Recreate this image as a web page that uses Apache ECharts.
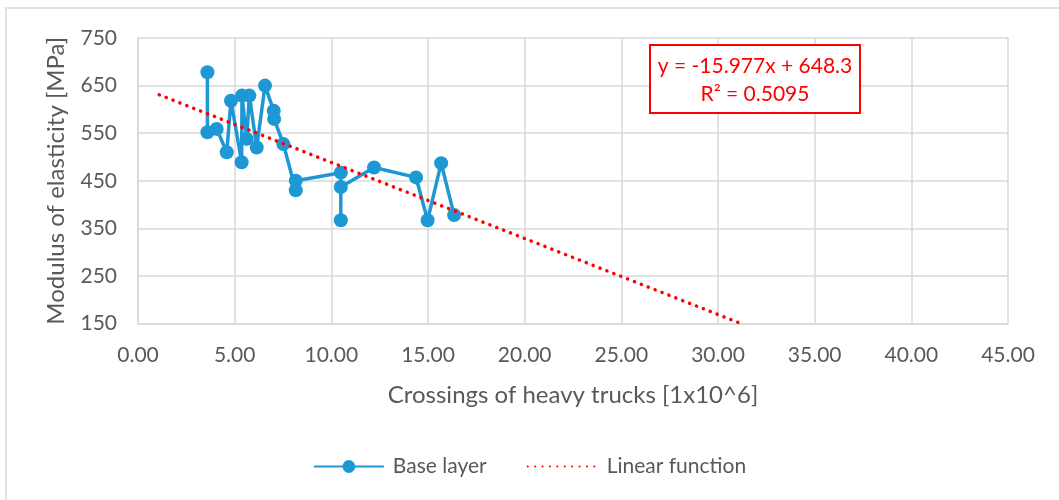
<!DOCTYPE html>
<html>
<head>
<meta charset="utf-8">
<script src="https://cdn.jsdelivr.net/npm/echarts@6/dist/echarts.min.js"></script>
<style>
  html, body { margin: 0; padding: 0; background: #fff; }
  #chart { width: 1059px; height: 500px; }
</style>
</head>
<body>
<div id="chart"></div>
<script>
// Measured base-layer modulus vs. cumulative heavy-truck crossings
const crossings = [3.59, 3.59, 4.07, 4.59, 4.81, 5.36, 5.38, 5.62, 5.76, 6.14, 6.57, 7.02, 7.04, 7.52,
                   8.16, 8.16, 10.49, 10.49, 10.49, 12.21, 14.38, 14.98, 15.68, 16.35];
const modulus   = [678, 552, 559, 510, 618, 489, 629, 538, 629, 520, 650, 597, 580, 527,
                   430, 450, 467, 367, 437, 478, 457, 367, 487, 378];

// Fitted linear trend (coefficients as printed in the equation box)
const trendSlope = -15.977;
const trendIntercept = 648.3;
const trendRange = [1.1, 31.19];
const trendLabel = ['y = -15.977x + 648.3', 'R² = 0.5095'];

const xTicks = { min: 0, max: 45, interval: 5 };
const yTicks = { min: 150, max: 750, interval: 100 };

const basePoints = crossings.map((x, i) => [x, modulus[i]]);
const trendPoints = trendRange.map(x => [x, trendSlope * x + trendIntercept]);

const FONT = 'Lato, "Open Sans", sans-serif';
const TEXT = '#595959';
const GRID = '#d9d9d9';

const chart = echarts.init(document.getElementById('chart'), null, { renderer: 'canvas' });
chart.setOption({
  animation: false,
  backgroundColor: '#fff',
  textStyle: { fontFamily: FONT },
  grid: { left: 138, top: 38, right: 51, bottom: 176.5, containLabel: false },
  xAxis: {
    type: 'value',
    min: xTicks.min, max: xTicks.max, interval: xTicks.interval,
    name: 'Crossings of heavy trucks [1x10^6]',
    nameLocation: 'middle', nameGap: 60,
    nameTextStyle: { color: TEXT, fontSize: 24, fontFamily: FONT },
    axisLine: { show: true, lineStyle: { color: GRID, width: 1.5 } },
    axisTick: { show: false },
    axisLabel: { color: TEXT, fontSize: 21, fontFamily: FONT, margin: 21,
                 formatter: v => v.toFixed(2) },
    splitLine: { show: true, lineStyle: { color: GRID, width: 1.5 } }
  },
  yAxis: {
    type: 'value',
    min: yTicks.min, max: yTicks.max, interval: yTicks.interval,
    name: 'Modulus of elasticity [MPa]',
    nameLocation: 'middle', nameGap: 70,
    nameTextStyle: { color: TEXT, fontSize: 24, fontFamily: FONT },
    axisLine: { show: true, lineStyle: { color: GRID, width: 1.5 } },
    axisTick: { show: false },
    axisLabel: { color: TEXT, fontSize: 21, fontFamily: FONT, margin: 21 },
    splitLine: { show: true, lineStyle: { color: GRID, width: 1.5 } }
  },
  legend: {
    bottom: 18, left: 'center',
    itemGap: 40, itemWidth: 70, itemHeight: 16,
    textStyle: { color: TEXT, fontSize: 21, fontFamily: FONT, padding: [0, 0, 0, 4] },
    data: [
      { name: 'Base layer' },
      { name: 'Linear function', itemStyle: { opacity: 0 } }
    ]
  },
  series: [
    {
      name: 'Base layer',
      type: 'line',
      data: basePoints,
      symbol: 'circle', symbolSize: 14,
      itemStyle: { color: '#1e98d4' },
      lineStyle: { color: '#1e98d4', width: 3.5 },
      z: 3
    },
    {
      name: 'Linear function',
      type: 'line',
      data: trendPoints,
      symbol: 'none',
      itemStyle: { color: '#ff0000' },
      lineStyle: { color: '#ff0000', width: 3.5, type: [0.1, 7.3], cap: 'round' },
      z: 4
    }
  ],
  graphic: [
    {
      type: 'rect', silent: true, z: -10,
      shape: { x: 6, y: 8, width: 1200, height: 700 },
      style: { fill: 'none', stroke: '#d9d9d9', lineWidth: 1.5 }
    },
    {
      type: 'rect', z: 100, zlevel: 1, x: 650, y: 45,
      shape: { x: 0, y: 0, width: 210, height: 68 },
      style: { fill: '#fff', stroke: '#ff0000', lineWidth: 2 }
    },
    {
      type: 'text', z: 101, zlevel: 1, x: 755, y: 66,
      style: { text: trendLabel[0], fill: '#ff0000', font: '21px ' + FONT,
               align: 'center', verticalAlign: 'middle' }
    },
    {
      type: 'text', z: 101, zlevel: 1, x: 755, y: 94,
      style: { text: trendLabel[1], fill: '#ff0000', font: '21px ' + FONT,
               align: 'center', verticalAlign: 'middle' }
    }
  ]
});
</script>
</body>
</html>
